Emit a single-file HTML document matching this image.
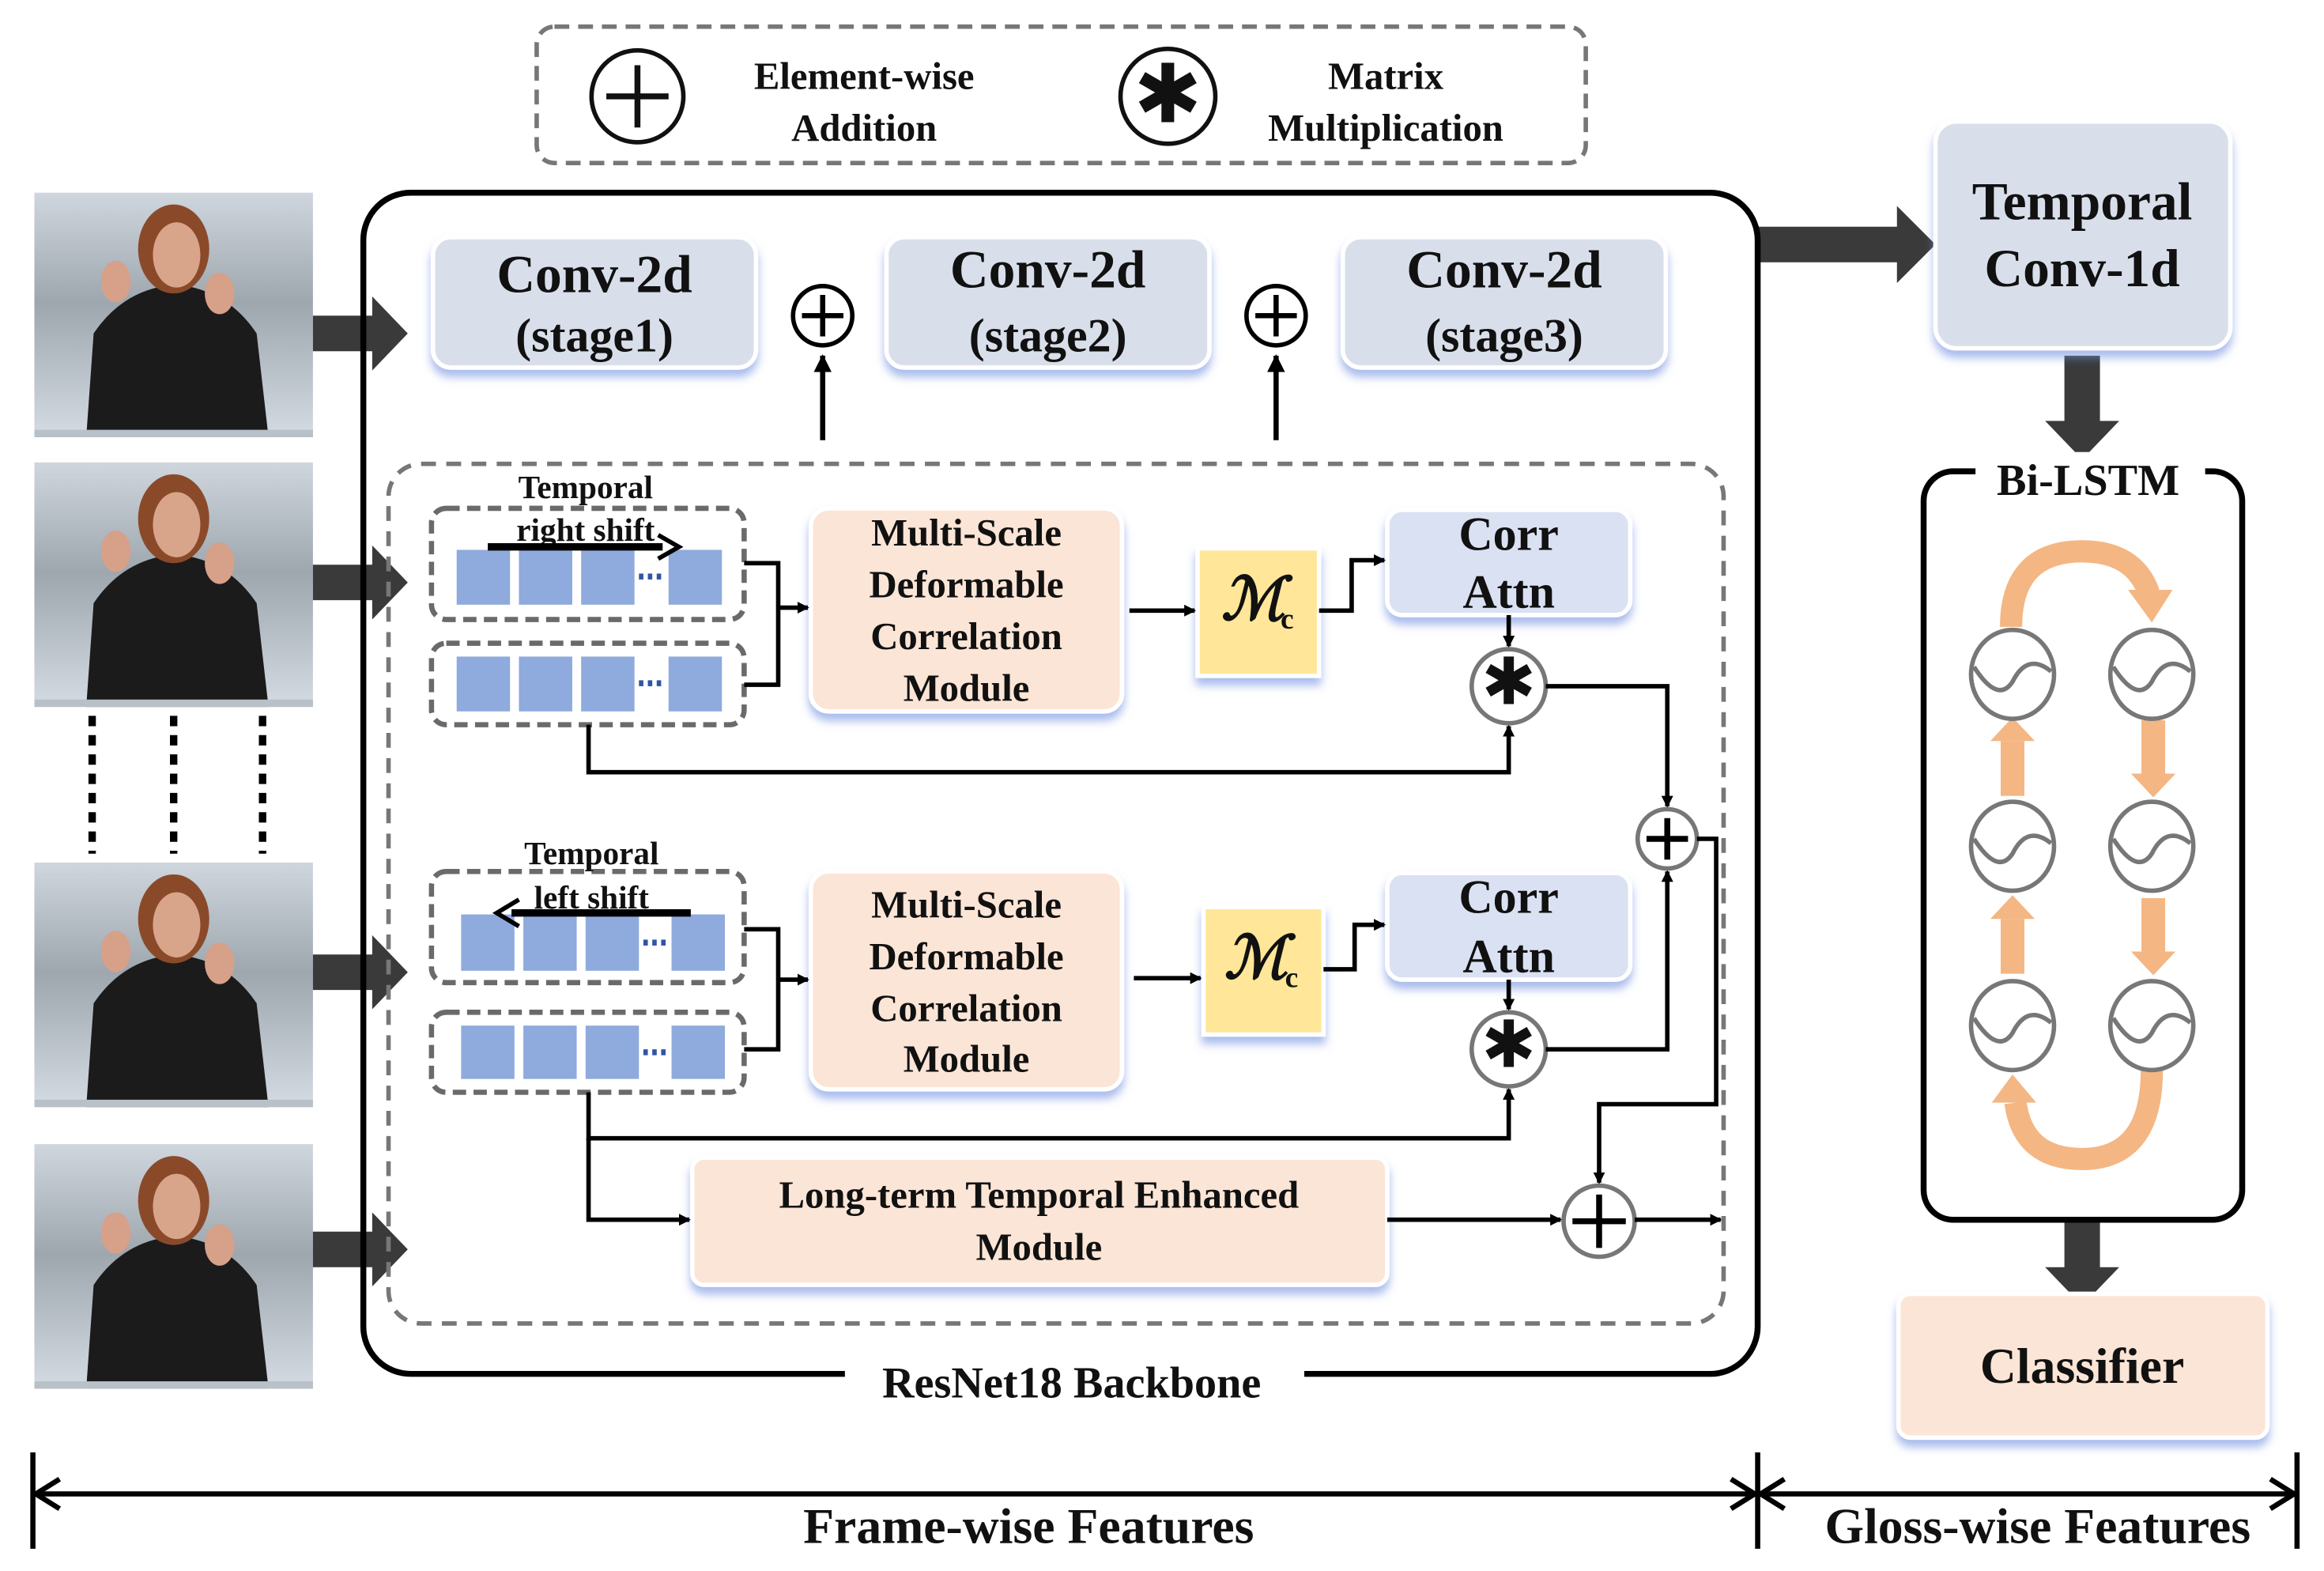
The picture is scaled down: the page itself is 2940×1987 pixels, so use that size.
<!DOCTYPE html>
<html><head><meta charset="utf-8"><style>
html,body{margin:0;padding:0;background:#fff;}
svg{display:block;}
text{font-family:"Liberation Serif",serif;font-weight:bold;fill:#111;}
</style></head><body>
<svg width="2940" height="1987" viewBox="0 0 1568 1060" xmlns="http://www.w3.org/2000/svg">
<defs>
<linearGradient id="bg" x1="0" y1="0" x2="0" y2="1">
<stop offset="0" stop-color="#cfd6de"/><stop offset="0.45" stop-color="#9ea6ae"/><stop offset="1" stop-color="#d4dbe2"/></linearGradient>
<filter id="sh" x="-10%" y="-10%" width="120%" height="130%"><feDropShadow dx="0" dy="5" stdDeviation="3" flood-color="#6f8fe0" flood-opacity="0.6"/></filter>
<marker id="ah" markerWidth="8" markerHeight="8" refX="7" refY="4" orient="auto" markerUnits="userSpaceOnUse"><path d="M0,0 L8,4 L0,8 Z" fill="#000"/></marker>
<marker id="ahb" markerWidth="12" markerHeight="12" refX="11" refY="6" orient="auto" markerUnits="userSpaceOnUse"><path d="M0,0 L12,6 L0,12 Z" fill="#000"/></marker>
<g id="person">
<rect x="0" y="0" width="188" height="165" fill="url(#bg)"/>
<path d="M35,165 L40,95 Q60,65 95,62 Q130,65 150,95 L158,165 Z" fill="#1b1b1b"/>
<ellipse cx="94" cy="38" rx="24" ry="30" fill="#8a4a2a"/>
<ellipse cx="96" cy="42" rx="16" ry="22" fill="#d9a58a"/>
<ellipse cx="55" cy="60" rx="10" ry="14" fill="#d7a088"/>
<ellipse cx="125" cy="68" rx="10" ry="14" fill="#d7a088"/>
<rect x="0" y="160" width="188" height="5" fill="#b8c0c8"/>
</g>
<g id="wave"><ellipse cx="0" cy="0" rx="28" ry="30" fill="none" stroke="#777" stroke-width="3"/><path d="M-26,-5 Q-10,20 0,5 Q10,-15 26,-2" fill="none" stroke="#777" stroke-width="3"/></g>
<g id="ast"><text x="0" y="14" font-size="44" text-anchor="middle" style="font-family:'DejaVu Sans',sans-serif">✱</text></g>
</defs>

<!-- legend -->
<rect x="362" y="18" width="708" height="92" rx="12" fill="none" stroke="#777" stroke-width="3" stroke-dasharray="10,6"/>
<circle cx="430" cy="65" r="31" fill="#fff" stroke="#111" stroke-width="3"/>
<path d="M430,44 V86 M409,65 H451" stroke="#111" stroke-width="4"/>
<text x="583" y="60" font-size="26" text-anchor="middle">Element-wise</text>
<text x="583" y="95" font-size="26" text-anchor="middle">Addition</text>
<circle cx="788" cy="65" r="32" fill="#fff" stroke="#111" stroke-width="3"/>
<g transform="translate(788,65) scale(1.25)"><use href="#ast"/></g>
<text x="935" y="60" font-size="26" text-anchor="middle">Matrix</text>
<text x="935" y="95" font-size="26" text-anchor="middle">Multiplication</text>

<!-- photos -->
<use href="#person" x="23" y="130"/>
<use href="#person" x="23" y="312"/>
<use href="#person" x="23" y="582"/>
<use href="#person" x="23" y="772"/>
<g stroke="#000" stroke-width="5" stroke-dasharray="7,6">
<line x1="62" y1="483" x2="62" y2="576"/><line x1="117" y1="483" x2="117" y2="576"/><line x1="177" y1="483" x2="177" y2="576"/></g>
<g fill="#3a3a3a">
<path d="M211,213 h40 v-13 l24,25 l-24,25 v-13 h-40 Z"/>
<path d="M211,381 h40 v-13 l24,25 l-24,25 v-13 h-40 Z"/>
<path d="M211,644 h40 v-13 l24,25 l-24,25 v-13 h-40 Z"/>
<path d="M211,831 h40 v-13 l24,25 l-24,25 v-13 h-40 Z"/>
<path d="M1186,153 h94 v-14 l26,26 l-26,26 v-14 h-94 Z"/>
<path d="M1393,240 h24 v44 h13 l-25,26 l-25,-26 h13 Z"/>
<path d="M1393,823 h24 v32 h13 l-25,26 l-25,-26 h13 Z"/>
</g>

<!-- main box -->
<rect x="245" y="130" width="941" height="797" rx="32" fill="none" stroke="#000" stroke-width="4"/>
<rect x="570" y="915" width="310" height="30" fill="#fff"/>
<text x="723" y="943" font-size="30" text-anchor="middle">ResNet18 Backbone</text>

<!-- conv boxes -->
<g filter="url(#sh)" fill="#d9dfea" stroke="#fff" stroke-width="3">
<rect x="292" y="160" width="218" height="88" rx="12"/>
<rect x="598" y="160" width="218" height="88" rx="12"/>
<rect x="906" y="160" width="218" height="88" rx="12"/>
<rect x="1306" y="82" width="199" height="153" rx="14"/>
</g>
<text x="401" y="197" font-size="36" text-anchor="middle">Conv-2d</text>
<text x="401" y="237" font-size="32" text-anchor="middle">(stage1)</text>
<text x="707" y="194" font-size="36" text-anchor="middle">Conv-2d</text>
<text x="707" y="237" font-size="32" text-anchor="middle">(stage2)</text>
<text x="1015" y="194" font-size="36" text-anchor="middle">Conv-2d</text>
<text x="1015" y="237" font-size="32" text-anchor="middle">(stage3)</text>
<text x="1405" y="148" font-size="36" text-anchor="middle">Temporal</text>
<text x="1405" y="193" font-size="36" text-anchor="middle">Conv-1d</text>

<g stroke="#000" stroke-width="3" fill="#fff">
<circle cx="555" cy="213" r="20"/><circle cx="861" cy="213" r="20"/></g>
<path d="M555,199 V227 M541,213 H569 M861,199 V227 M847,213 H875" stroke="#000" stroke-width="3.5"/>
<path d="M555,297 V240" stroke="#000" stroke-width="3.5" marker-end="url(#ahb)"/>
<path d="M861,297 V240" stroke="#000" stroke-width="3.5" marker-end="url(#ahb)"/>

<!-- inner dashed -->
<rect x="262" y="313" width="901" height="580" rx="22" fill="none" stroke="#777" stroke-width="3" stroke-dasharray="10,7"/>

<!-- token groups -->
<g fill="none" stroke="#6a6a6a" stroke-width="3.5" stroke-dasharray="9,5">
<rect x="291" y="343" width="211" height="75" rx="10"/>
<rect x="291" y="434" width="211" height="55" rx="10"/>
<rect x="291" y="588" width="211" height="75" rx="10"/>
<rect x="291" y="683" width="211" height="54" rx="10"/>
</g>
<g fill="#8faadc" stroke="#fff" stroke-width="2">
<rect x="307" y="370" width="38" height="39"/><rect x="349" y="370" width="38" height="39"/><rect x="391" y="370" width="38" height="39"/><rect x="450" y="370" width="38" height="39"/>
<rect x="307" y="442" width="38" height="39"/><rect x="349" y="442" width="38" height="39"/><rect x="391" y="442" width="38" height="39"/><rect x="450" y="442" width="38" height="39"/>
<rect x="310" y="616" width="38" height="40"/><rect x="352" y="616" width="38" height="40"/><rect x="394" y="616" width="38" height="40"/><rect x="452" y="616" width="38" height="40"/>
<rect x="310" y="691" width="38" height="38"/><rect x="352" y="691" width="38" height="38"/><rect x="394" y="691" width="38" height="38"/><rect x="452" y="691" width="38" height="38"/>
</g>
<g fill="#2f55a4"><rect x="431" y="387" width="3" height="4"/><rect x="437" y="387" width="3" height="4"/><rect x="443" y="387" width="3" height="4"/>
<rect x="431" y="459" width="3" height="4"/><rect x="437" y="459" width="3" height="4"/><rect x="443" y="459" width="3" height="4"/>
<rect x="434" y="634" width="3" height="4"/><rect x="440" y="634" width="3" height="4"/><rect x="446" y="634" width="3" height="4"/>
<rect x="434" y="708" width="3" height="4"/><rect x="440" y="708" width="3" height="4"/><rect x="446" y="708" width="3" height="4"/></g>
<text x="395" y="336" font-size="22" text-anchor="middle">Temporal</text>
<text x="395" y="365" font-size="22" text-anchor="middle">right shift</text>
<path d="M329,369 H447" stroke="#000" stroke-width="5"/><path d="M444,361 L458,369 L444,377" fill="none" stroke="#000" stroke-width="3"/>
<text x="399" y="583" font-size="22" text-anchor="middle">Temporal</text>
<text x="399" y="613" font-size="22" text-anchor="middle">left shift</text>
<path d="M345,616 H466" stroke="#000" stroke-width="5"/><path d="M350,607 L335,616 L350,625" fill="none" stroke="#000" stroke-width="3"/>

<!-- MSDCM, Mc, Corr, LTEM -->
<g filter="url(#sh)" stroke="#fff" stroke-width="3">
<rect x="547" y="343" width="210" height="137" rx="12" fill="#fbe5d6"/>
<rect x="547" y="588" width="210" height="147" rx="12" fill="#fbe5d6"/>
<rect x="808" y="370" width="82" height="86" fill="#ffe699"/>
<rect x="812" y="612" width="81" height="86" fill="#ffe699"/>
<rect x="936" y="344" width="164" height="71" rx="10" fill="#dae1f2"/>
<rect x="936" y="589" width="164" height="72" rx="10" fill="#dae1f2"/>
<rect x="467" y="781" width="469" height="86" rx="8" fill="#fbe5d6"/>
<rect x="1281" y="873" width="249" height="97" rx="8" fill="#fbe5d6"/>
</g>
<g font-size="26" text-anchor="middle">
<text x="652" y="368">Multi-Scale</text><text x="652" y="403">Deformable</text><text x="652" y="438">Correlation</text><text x="652" y="473">Module</text>
<text x="652" y="619">Multi-Scale</text><text x="652" y="654">Deformable</text><text x="652" y="689">Correlation</text><text x="652" y="723">Module</text>
<text x="701" y="815">Long-term Temporal Enhanced</text><text x="701" y="850">Module</text>
</g>
<g font-size="32" text-anchor="middle">
<text x="1018" y="371">Corr</text><text x="1018" y="410">Attn</text>
<text x="1018" y="616">Corr</text><text x="1018" y="656">Attn</text>
<text x="1405" y="933" font-size="34">Classifier</text>
</g>
<text x="824" y="418" font-size="40" style="font-style:italic;font-family:'DejaVu Serif',serif">ℳ</text><text x="864" y="424" font-size="20">c</text>
<text x="826" y="660" font-size="40" style="font-style:italic;font-family:'DejaVu Serif',serif">ℳ</text><text x="867" y="666" font-size="20">c</text>

<!-- op circles -->
<g stroke="#777" stroke-width="3" fill="#fff">
<circle cx="1018" cy="463" r="25"/><circle cx="1018" cy="708" r="25"/>
<circle cx="1125" cy="566" r="20"/><circle cx="1079" cy="824" r="24"/></g>
<use href="#ast" x="1018" y="461"/><use href="#ast" x="1018" y="706"/>
<path d="M1125,552 V580 M1111,566 H1139 M1079,806 V842 M1061,824 H1097" stroke="#000" stroke-width="4"/>

<!-- connectors -->
<g fill="none" stroke="#000" stroke-width="3">
<path d="M502,380 H525 V462 H502"/><path d="M525,410 H545" marker-end="url(#ah)"/>
<path d="M502,627 H525 V708 H502"/><path d="M525,661 H545" marker-end="url(#ah)"/>
<path d="M762,412 H806" marker-end="url(#ah)"/>
<path d="M765,660 H810" marker-end="url(#ah)"/>
<path d="M890,412 H912 V378 H934" marker-end="url(#ah)"/>
<path d="M893,654 H914 V624 H934" marker-end="url(#ah)"/>
<path d="M1018,415 V436" marker-end="url(#ah)"/>
<path d="M1018,661 V681" marker-end="url(#ah)"/>
<path d="M397,489 V521 H1018 V490" marker-end="url(#ah)"/>
<path d="M397,737 V768 H1018 V735" marker-end="url(#ah)"/>
<path d="M397,768 V823 H465" marker-end="url(#ah)"/>
<path d="M1043,463 H1125 V544" marker-end="url(#ah)"/>
<path d="M1043,708 H1125 V588" marker-end="url(#ah)"/>
<path d="M1145,566 H1158 V745 H1079 V798" marker-end="url(#ah)"/>
<path d="M936,823 H1053" marker-end="url(#ah)"/>
<path d="M1103,823 H1161" marker-end="url(#ah)"/>
</g>

<!-- Bi-LSTM -->
<rect x="1298" y="318" width="215" height="505" rx="20" fill="none" stroke="#000" stroke-width="4"/>
<rect x="1333" y="305" width="155" height="30" fill="#fff"/>
<text x="1409" y="334" font-size="30" text-anchor="middle">Bi-LSTM</text>
<g fill="none" stroke="#f4b683" stroke-width="15">
<path d="M1357,423 Q1357,372 1405,372 Q1440,372 1450,400"/>
<path d="M1452,722 Q1452,782 1405,782 Q1365,782 1360,744"/>
</g>
<g fill="#f4b683">
<path d="M1436,398 L1466,398 L1452,420 Z"/>
<path d="M1344,744 L1374,744 L1358,725 Z"/>
<rect x="1350" y="500" width="16" height="37"/><path d="M1343,500 L1373,500 L1358,484 Z"/>
<rect x="1350" y="620" width="16" height="37"/><path d="M1343,620 L1373,620 L1358,604 Z"/>
<rect x="1445" y="486" width="16" height="36"/><path d="M1438,522 L1468,522 L1453,538 Z"/>
<rect x="1445" y="606" width="16" height="36"/><path d="M1438,642 L1468,642 L1453,658 Z"/>
</g>
<use href="#wave" transform="translate(1358,455)"/>
<use href="#wave" transform="translate(1452,455)"/>
<use href="#wave" transform="translate(1358,571)"/>
<use href="#wave" transform="translate(1452,571)"/>
<use href="#wave" transform="translate(1358,692)"/>
<use href="#wave" transform="translate(1452,692)"/>

<!-- bottom axis -->
<g stroke="#000" stroke-width="3.5" fill="none">
<path d="M22,980 V1045 M1186,980 V1045 M1550,980 V1045"/>
<path d="M24,1008 H1184 M1188,1008 H1548"/>
<path d="M40,998 L24,1008 L40,1018 M1168,998 L1184,1008 L1168,1018 M1204,998 L1188,1008 L1204,1018 M1532,998 L1548,1008 L1532,1018"/>
</g>
<text x="694" y="1041" font-size="34" text-anchor="middle">Frame-wise Features</text>
<text x="1375" y="1041" font-size="34" text-anchor="middle">Gloss-wise Features</text>
</svg>
</body></html>
